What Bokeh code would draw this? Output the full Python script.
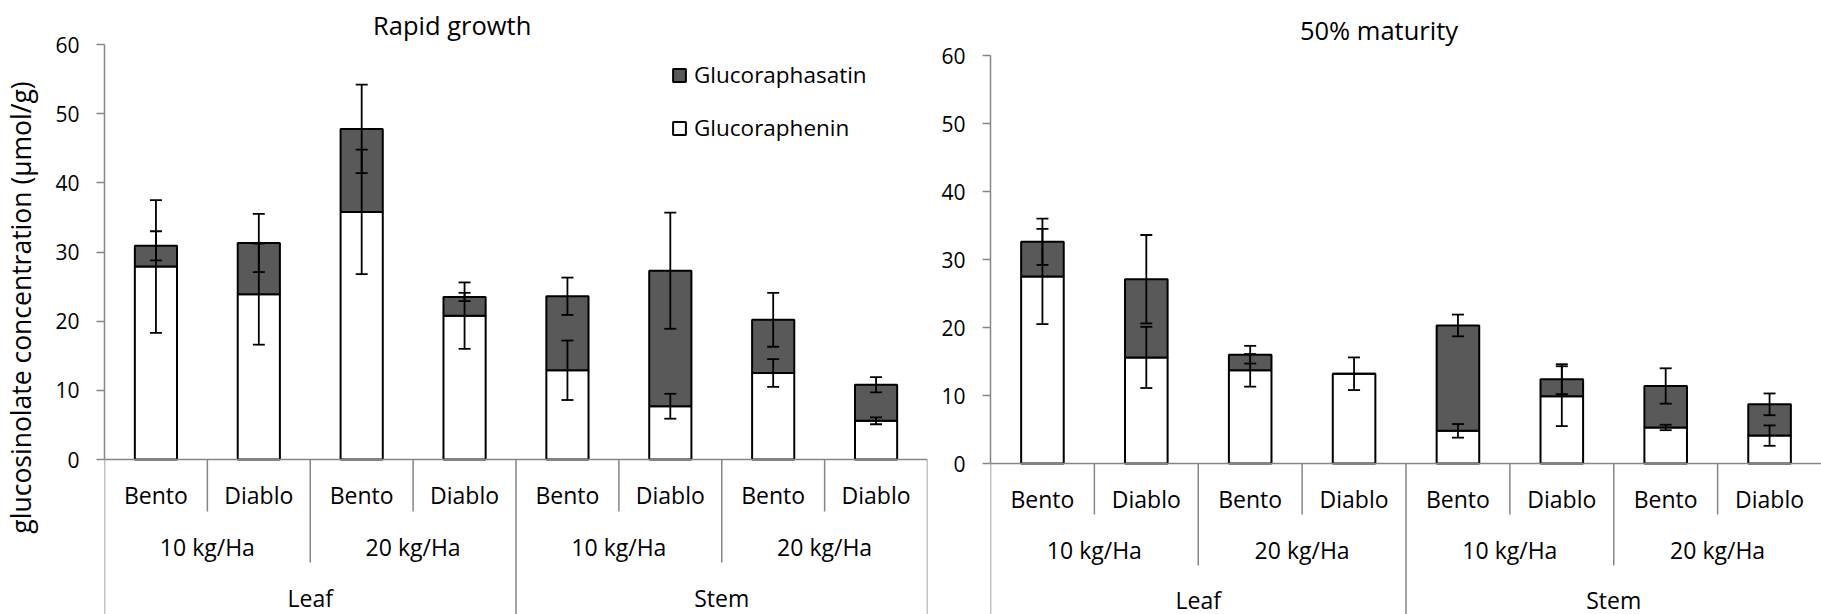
from bokeh.plotting import figure
from bokeh.models import (ColumnDataSource, FactorRange, Range1d, Whisker, TeeHead,
                          Legend, LegendItem, FixedTicker)
from bokeh.layouts import row
from bokeh.core.properties import value
from bokeh.embed import file_html
from bokeh.resources import INLINE

FONT = "Open Sans"
DARK = "#595959"
AXIS = "#868686"

# ---------------- data ----------------
plant_parts = ["Leaf", "Leaf", "Leaf", "Leaf", "Stem", "Stem", "Stem", "Stem"]
seed_rates = ["10 kg/Ha", "10 kg/Ha", "20 kg/Ha", "20 kg/Ha",
              "10 kg/Ha", "10 kg/Ha", "20 kg/Ha", "20 kg/Ha"]
cultivars = ["Bento", "Diablo", "Bento", "Diablo", "Bento", "Diablo", "Bento", "Diablo"]

y_ticks = [0, 10, 20, 30, 40, 50, 60]

# Rapid growth
rapid_glucoraphenin = [27.9, 23.9, 35.8, 20.8, 12.9, 7.7, 12.5, 5.6]
rapid_glucoraphenin_err = [9.6, 7.3, 9.0, 4.8, 4.3, 1.8, 2.0, 0.5]
rapid_glucoraphasatin = [3.0, 7.4, 12.0, 2.7, 10.7, 19.6, 7.7, 5.2]
rapid_glucoraphasatin_err = [2.1, 4.2, 6.4, 0.6, 2.7, 8.4, 3.9, 1.1]

# 50% maturity
mature_glucoraphenin = [27.5, 15.6, 13.7, 13.2, 4.8, 9.9, 5.3, 4.1]
mature_glucoraphenin_err = [7.0, 4.5, 2.4, 2.4, 1.0, 4.4, 0.4, 1.5]
mature_glucoraphasatin = [5.1, 11.5, 2.3, 0.0, 15.5, 2.5, 6.1, 4.6]
mature_glucoraphasatin_err = [3.4, 6.5, 1.3, 0.0, 1.6, 2.2, 2.6, 1.6]

series_names = ["Glucoraphasatin", "Glucoraphenin"]
y_label = "glucosinolate concentration (µmol/g)"


def runs(keys):
    """Consecutive runs of equal keys -> (label, centre in synthetic units)."""
    out = []
    start = 0
    for i in range(1, len(keys) + 1):
        if i == len(keys) or keys[i] != keys[start]:
            out.append((keys[start][-1], (start + i) / 2.0))
            start = i
    return out


def panel(title, raphenin, raphenin_err, raphasatin, raphasatin_err, g, with_legend=False):
    n = len(cultivars)
    H = g["H"]
    ppu = (g["zero_px"] - g["top_px"]) / 60.0
    y_end = 60 + g["top_px"] / ppu
    y_start = -(H - g["zero_px"]) / ppu

    def below(px):
        return -px / ppu

    factors = list(zip(plant_parts, seed_rates, cultivars))
    xr = FactorRange(factors=factors, factor_padding=0, subgroup_padding=0,
                     group_padding=0, range_padding=0)
    p = figure(width=g["W"], height=H, x_range=xr, y_range=Range1d(y_start, y_end),
               output_backend="svg", toolbar_location=None, x_axis_location=None,
               min_border_left=g["mbl"], min_border_right=g["mbr"],
               min_border_top=0, min_border_bottom=0, outline_line_color=None,
               background_fill_color="white", border_fill_color="white")
    p.grid.visible = False

    ax = p.yaxis[0]
    ax.bounds = (0, 60)
    ax.ticker = FixedTicker(ticks=y_ticks)
    ax.axis_line_color = AXIS
    ax.axis_line_width = 1.5
    ax.major_tick_line_color = AXIS
    ax.major_tick_line_width = 1.5
    ax.major_tick_out = 8
    ax.major_tick_in = 0
    ax.minor_tick_line_color = None
    ax.major_label_text_font = FONT
    ax.major_label_text_font_size = "21px"
    ax.major_label_text_color = "black"
    ax.major_label_standoff = 17
    if g.get("ylabel"):
        ax.axis_label = g["ylabel"]
        ax.axis_label_text_font = FONT
        ax.axis_label_text_font_size = "26.5px"
        ax.axis_label_text_font_style = "normal"
        ax.axis_label_text_color = "black"
        ax.axis_label_standoff = 13

    total = [a + b for a, b in zip(raphenin, raphasatin)]
    src = ColumnDataSource(dict(
        x=factors, glucoraphenin=raphenin, glucoraphasatin=raphasatin,
        r_lo=[v - e for v, e in zip(raphenin, raphenin_err)],
        r_hi=[v + e for v, e in zip(raphenin, raphenin_err)],
    ))
    idx = [i for i in range(n) if raphasatin_err[i] > 0]
    tsrc = ColumnDataSource(dict(
        x=[factors[i] for i in idx],
        t_lo=[total[i] - raphasatin_err[i] for i in idx],
        t_hi=[total[i] + raphasatin_err[i] for i in idx],
    ))

    bars = p.vbar_stack(["glucoraphenin", "glucoraphasatin"], x="x", width=0.41, source=src,
                        fill_color=["white", DARK], line_color="black", line_width=2)

    # category "table" lines
    xs0, ys0, ys1 = [], [], []
    last = n if g["last_sep"] else n - 1
    for b in range(0, last + 1):
        if b in (0, n) or plant_parts[b - 1] != plant_parts[b]:
            depth = H - g["zero_px"]
        elif seed_rates[b - 1] != seed_rates[b]:
            depth = g["sep2"]
        else:
            depth = g["sep1"]
        xs0.append(b)
        ys0.append(0)
        ys1.append(below(depth))
    p.segment(x0=xs0, y0=ys0, x1=xs0, y1=ys1, line_color=AXIS, line_width=1.5)
    p.segment(x0=[0], y0=[0], x1=[n], y1=[0], line_color=AXIS, line_width=1.5)

    for lo, hi, s in (("r_lo", "r_hi", src), ("t_lo", "t_hi", tsrc)):
        p.add_layout(Whisker(source=s, base="x", lower=lo, upper=hi, dimension="height",
                             level="overlay", line_color="black", line_width=1.8,
                             upper_head=TeeHead(size=12, line_color="black", line_width=1.8),
                             lower_head=TeeHead(size=12, line_color="black", line_width=1.8)))

    tkw = dict(text_font=value(FONT), text_font_size=value("23px"), text_color="black",
               text_align="center", text_baseline="middle")
    p.text(x=factors, y=[below(g["t1"])] * n, text=cultivars, **tkw)
    rate_runs = runs(list(zip(plant_parts, seed_rates)))
    p.text(x=[c for _, c in rate_runs], y=[below(g["t2"])] * len(rate_runs),
           text=[l for l, _ in rate_runs], **tkw)
    part_runs = runs([(pp,) for pp in plant_parts])
    p.text(x=[c for _, c in part_runs], y=[below(g["t3"])] * len(part_runs),
           text=[l for l, _ in part_runs], **tkw)

    p.text(x=[g["title_x"]], y=[y_end - g["title_px"] / ppu], text=[title],
           text_font=value(FONT), text_font_size=value("25.5px"), text_color="black",
           text_align="center", text_baseline="middle")

    if with_legend:
        leg = Legend(items=[LegendItem(label=series_names[0], renderers=[bars[1]]),
                            LegendItem(label=series_names[1], renderers=[bars[0]])],
                     location=g["legend_loc"], orientation="vertical",
                     glyph_width=16, glyph_height=16, label_standoff=7,
                     label_height=30, spacing=22, padding=0, margin=0,
                     border_line_color=None, background_fill_alpha=0,
                     label_text_font=FONT, label_text_font_size="22.5px",
                     label_text_color="black")
        p.add_layout(leg)
    return p


left_geom = dict(W=930, H=614, mbl=103, mbr=3, top_px=44, zero_px=459,
                 t1=35, t2=87, t3=138, sep1=52, sep2=103, last_sep=True,
                 title_x=3.38, title_px=24.5, ylabel=y_label, legend_loc=(567, 471))
right_geom = dict(W=891, H=614, mbl=60, mbr=0, top_px=55, zero_px=463,
                  t1=35, t2=86, t3=136, sep1=51, sep2=102, last_sep=False,
                  title_x=3.74, title_px=29, ylabel=None)

left = panel("Rapid growth", rapid_glucoraphenin, rapid_glucoraphenin_err,
             rapid_glucoraphasatin, rapid_glucoraphasatin_err, left_geom, with_legend=True)
right = panel("50% maturity", mature_glucoraphenin, mature_glucoraphenin_err,
              mature_glucoraphasatin, mature_glucoraphasatin_err, right_geom)

layout = row(left, right)
open("out.html", "w").write(file_html(layout, INLINE))
